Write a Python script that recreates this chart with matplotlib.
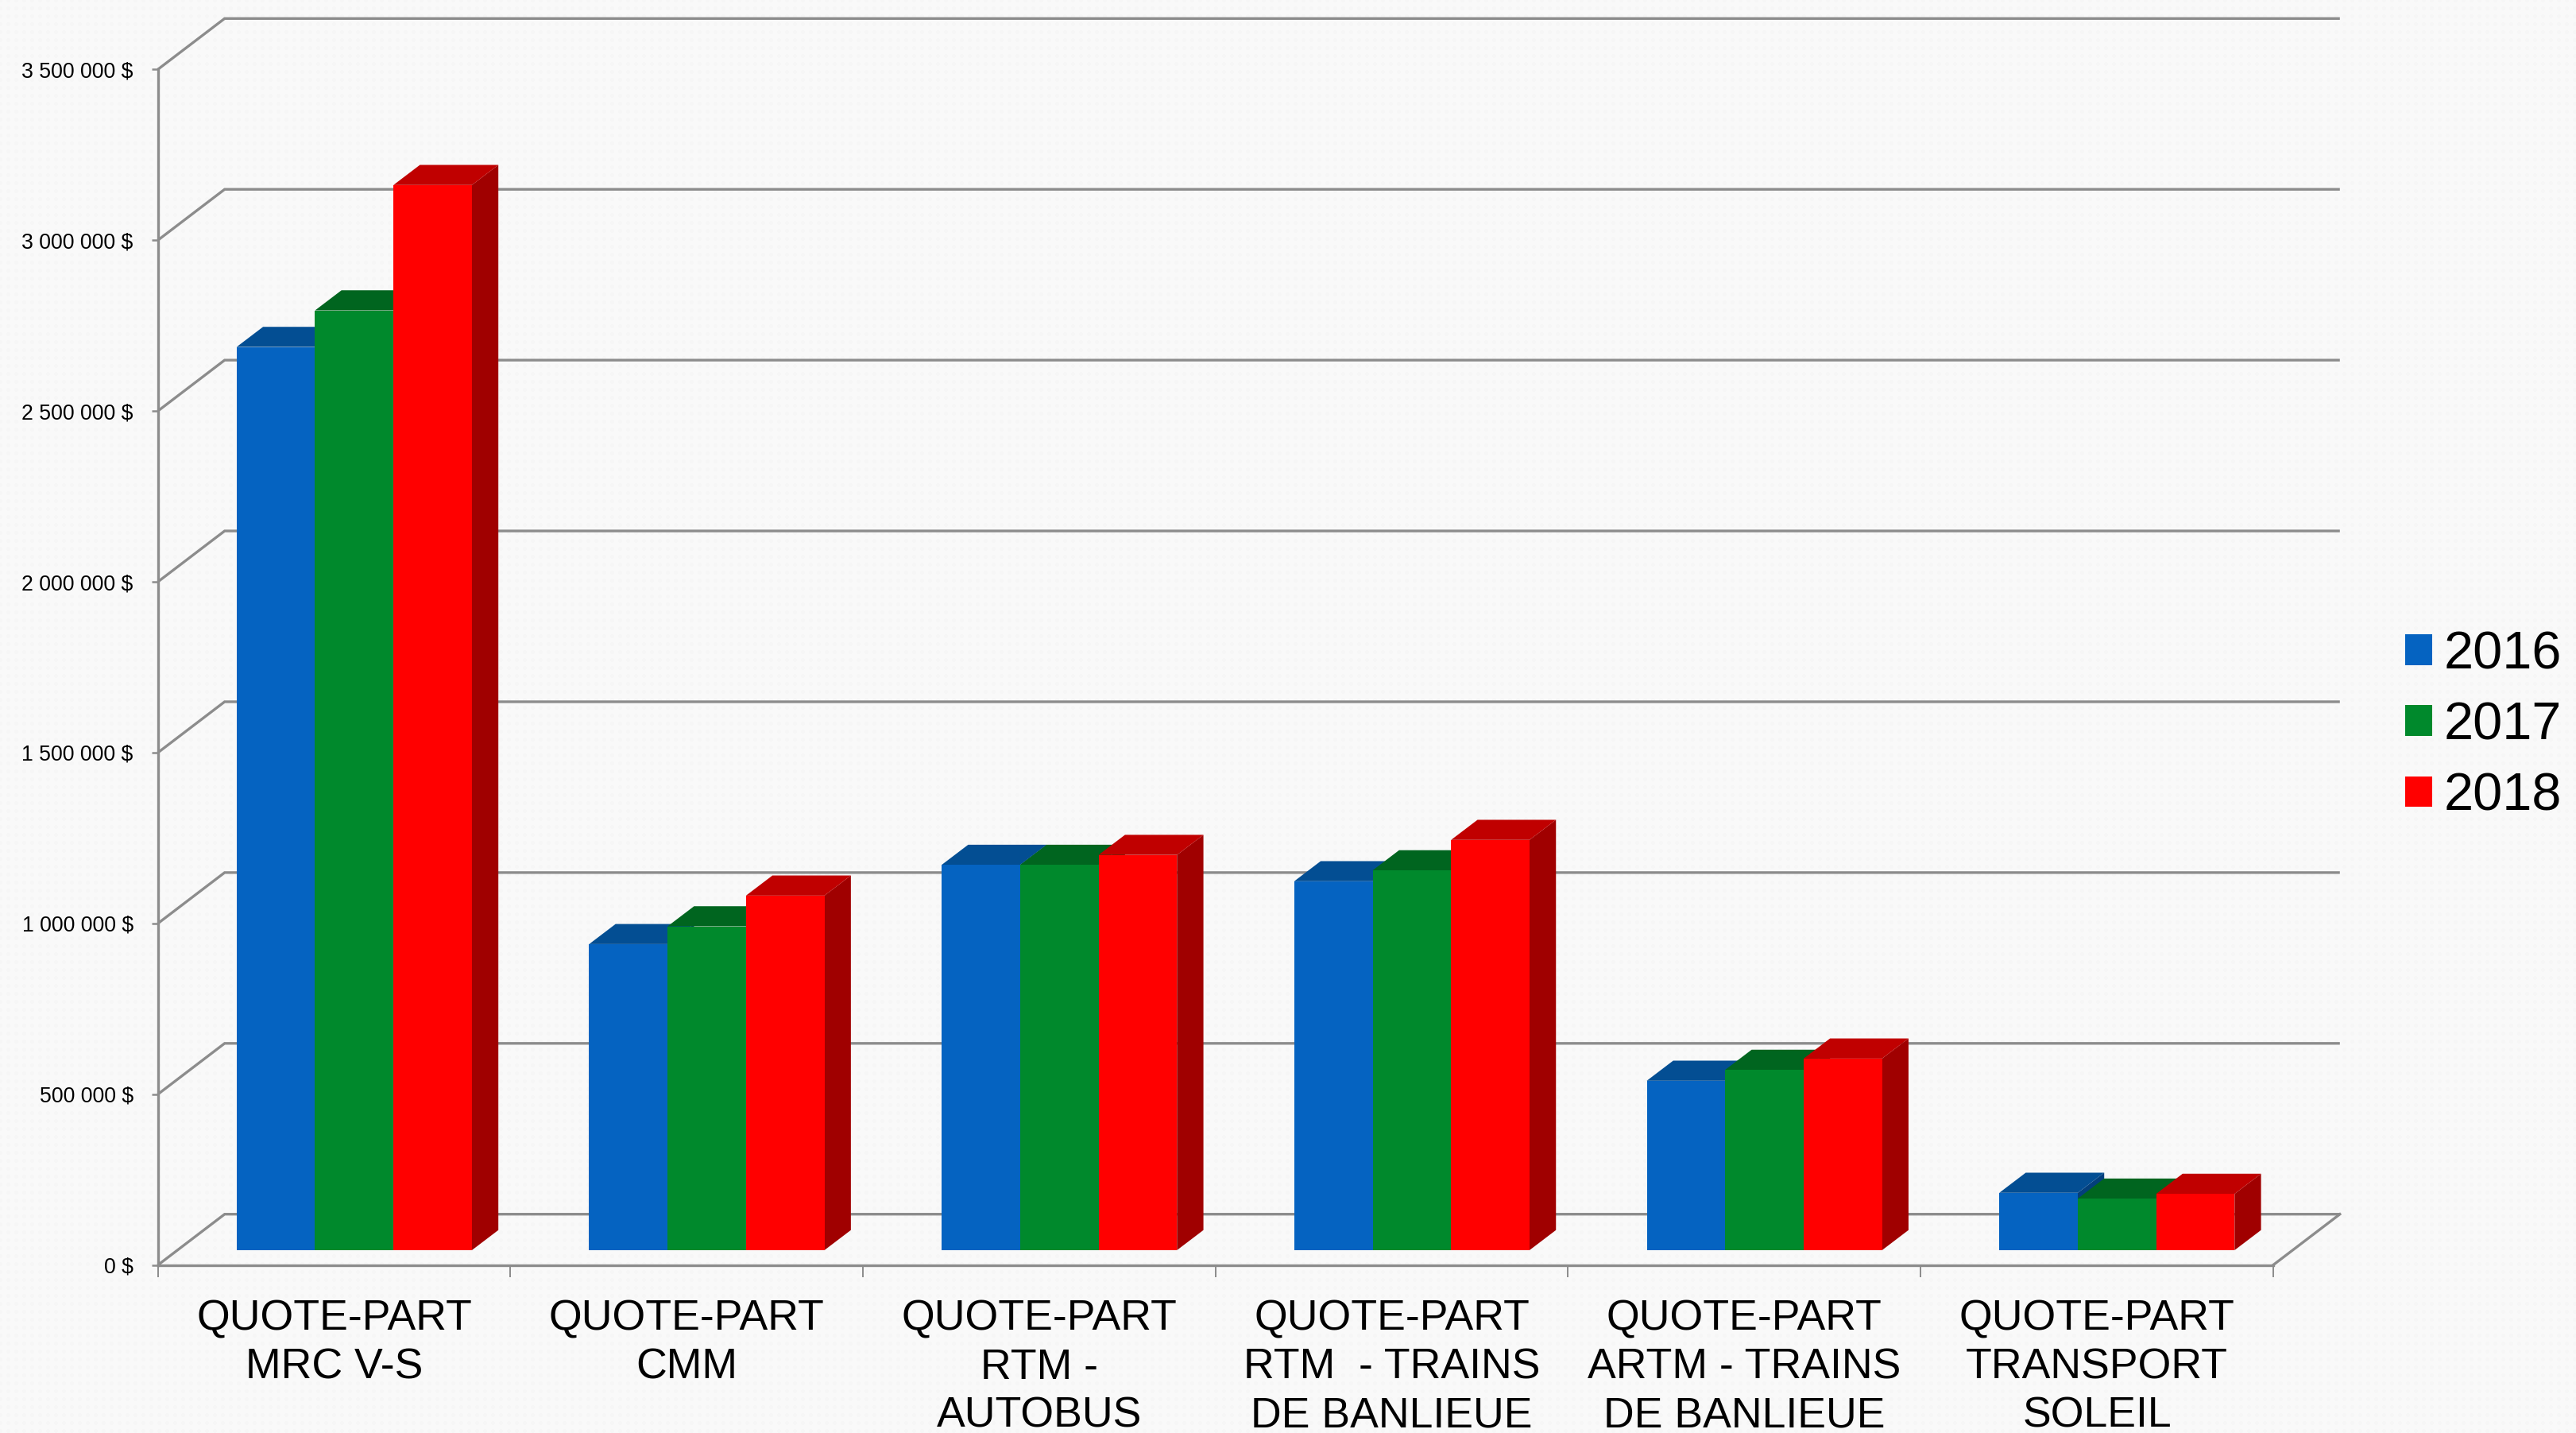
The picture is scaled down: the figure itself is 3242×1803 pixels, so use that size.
import numpy as np
import matplotlib
matplotlib.use("Agg")
import matplotlib.pyplot as plt
from matplotlib.patches import Patch

# --- data -----------------------------------------------------------------
categories = ["QUOTE-PART\nMRC V-S", "QUOTE-PART\nCMM", "QUOTE-PART\nRTM -\nAUTOBUS",
              "QUOTE-PART\nRTM  - TRAINS\nDE BANLIEUE", "QUOTE-PART\nARTM - TRAINS\nDE BANLIEUE",
              "QUOTE-PART\nTRANSPORT\nSOLEIL"]
years = ["2016", "2017", "2018"]
values_2016 = [2644000, 896000, 1128000, 1080000, 496000, 168000]
values_2017 = [2751000, 948000, 1128000, 1112000, 528000, 151000]
values_2018 = [3118000, 1038000, 1157000, 1201000, 561000, 165000]
y_ticks = [0, 500000, 1000000, 1500000, 2000000, 2500000, 3000000, 3500000]
y_labels = ["0 $", "500 000 $", "1 000 000 $", "1 500 000 $", "2 000 000 $",
            "2 500 000 $", "3 000 000 $", "3 500 000 $"]

# --- style ----------------------------------------------------------------
front = ["#0563C1", "#00892C", "#FF0000"]
top = ["#034E93", "#00651F", "#C00000"]
side = ["#033F7C", "#00521A", "#A00000"]
grid = "#8C8C8C"
W, H = 3242, 1803
plt.rcParams["font.family"] = ["Liberation Sans", "DejaVu Sans"]

fig = plt.figure(figsize=(W / 100, H / 100), dpi=100, facecolor="#F8F8F8")

# faint dotted backdrop
yy, xx = np.mgrid[0:H, 0:W]
tex = 0.975 - 0.012 * (np.cos(2 * np.pi * (xx + yy) / 20) * np.cos(2 * np.pi * (xx - yy) / 20) > 0.35)
fig.figimage(tex, cmap="gray", vmin=0, vmax=1, zorder=-5, origin="upper")

ax = fig.add_axes([198.7 / W, (H - 1591.7) / H, (2860.8 - 198.7) / W, (1591.7 - 87.3) / H])
ax.patch.set_alpha(0)
ax.set_xlim(0, 6)
ax.set_ylim(0, 3500000)
xu, yu = (2860.8 - 198.7) / 6, (1591.7 - 87.3) / 3500000  # px per data unit

wall_dx, wall_dy = 84.0 / xu, 64.0 / yu
depth_dx, depth_dy = 33.3 / xu, 25.3 / yu
floor_dx, floor_dy = 25.3 / xu, 18.7 / yu
bar_w = 98.7 / xu
lw_grid = 2.4

# walls
for t in y_ticks:
    ax.plot([0, wall_dx, 6 + wall_dx], [t, t + wall_dy, t + wall_dy], color=grid, lw=lw_grid,
            clip_on=False, zorder=1, solid_joinstyle="miter", solid_capstyle="butt")
ax.plot([6, 6 + wall_dx], [0, wall_dy], color=grid, lw=lw_grid, clip_on=False, zorder=1)

# 3-D bars
series = [values_2016, values_2017, values_2018]
for g in range(len(categories)):
    for s, vals in enumerate(series):
        x0 = g + 0.5 - 1.5 * bar_w + floor_dx + s * bar_w
        x1 = x0 + bar_w
        b = floor_dy
        tv = b + vals[g]
        z = 3 + g * 10 + s * 3
        ax.fill([x1, x1 + depth_dx, x1 + depth_dx, x1],
                [b, b + depth_dy, tv + depth_dy, tv], color=side[s], lw=0, clip_on=False, zorder=z)
        ax.fill([x0, x0 + depth_dx, x1 + depth_dx, x1],
                [tv, tv + depth_dy, tv + depth_dy, tv], color=top[s], lw=0, clip_on=False, zorder=z + 1)
        ax.bar(x0, vals[g], bar_w, bottom=b, align="edge", color=front[s], lw=0, clip_on=False, zorder=z + 2)

# axes, ticks and labels
for k in ("top", "right"):
    ax.spines[k].set_visible(False)
for k in ("left", "bottom"):
    ax.spines[k].set_color(grid)
    ax.spines[k].set_linewidth(lw_grid)
    ax.spines[k].set_zorder(2)
ax.set_yticks(y_ticks)
ax.set_yticklabels(y_labels, fontsize=19.2)
ax.tick_params(axis="y", length=5.8, width=1.8, color=grid, pad=16.5)
ax.set_xticks(range(7))
ax.set_xticklabels([""] * 7)
ax.tick_params(axis="x", which="major", length=10.8, width=1.4, color=grid)
ax.set_xticks(np.arange(6) + 0.5, minor=True)
ax.set_xticklabels(categories, minor=True, fontsize=38.6, linespacing=1.28, color="black")
ax.tick_params(axis="x", which="minor", length=0, pad=31)

# legend
handles = [Patch(facecolor=c, edgecolor="none", label=y) for c, y in zip(front, years)]
fig.legend(handles=handles, loc="upper left", bbox_to_anchor=(3027 / W, (H - 793) / H),
           bbox_transform=fig.transFigure, frameon=False, fontsize=48, borderpad=0, borderaxespad=0,
           handlelength=0.51, handleheight=0.51, handletextpad=0.22, labelspacing=0.41)

fig.savefig("out.png", dpi=100, facecolor=fig.get_facecolor())
